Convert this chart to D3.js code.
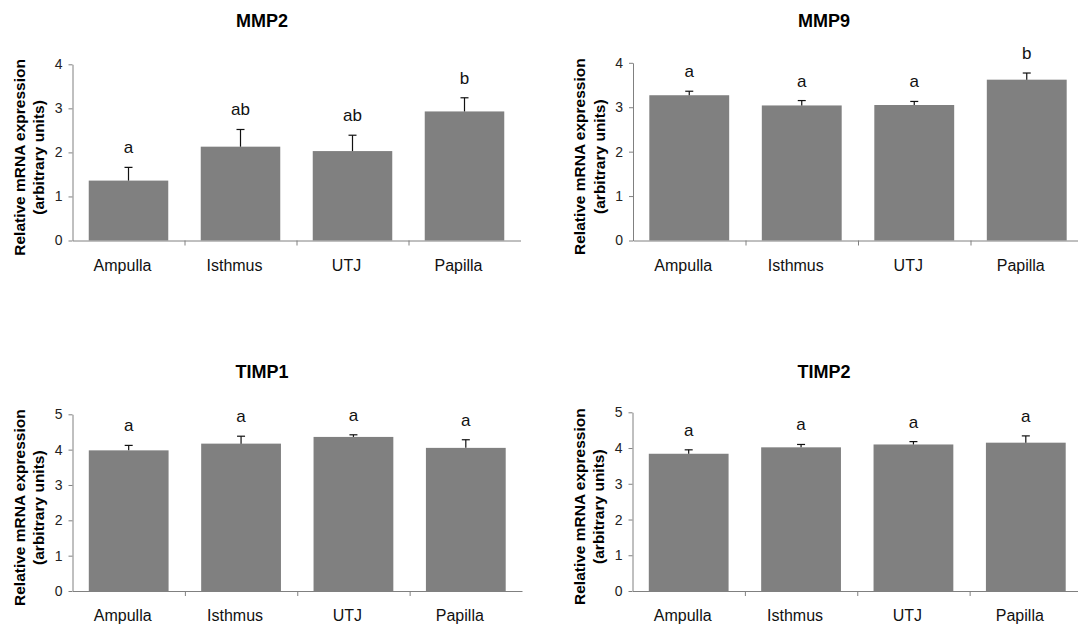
<!DOCTYPE html>
<html>
<head>
<meta charset="utf-8">
<script src="https://cdn.jsdelivr.net/npm/d3@7"></script>
<style>
  body { margin: 0; background: #fff; }
  svg { display: block; font-family: Arial, "Liberation Sans", sans-serif; }
  .domain { stroke: #808080; }
  .tick line { stroke: #808080; }
</style>
</head>
<body>
<svg width="1078" height="624"></svg>
<script>
const categories = ["Ampulla", "Isthmus", "UTJ", "Papilla"]
const genes = ["MMP2", "MMP9", "TIMP1", "TIMP2"]

// bar heights (means) and upper error (SEM)
const mmp2_mean = [1.36, 2.13, 2.03, 2.93]
const mmp2_sem = [0.30, 0.39, 0.36, 0.31]
const mmp2_letters = ["a", "ab", "ab", "b"]

const mmp9_mean = [3.27, 3.04, 3.05, 3.62]
const mmp9_sem = [0.09, 0.11, 0.08, 0.15]
const mmp9_letters = ["a", "a", "a", "b"]

const timp1_mean = [3.98, 4.17, 4.36, 4.05]
const timp1_sem = [0.14, 0.21, 0.06, 0.23]
const timp1_letters = ["a", "a", "a", "a"]

const timp2_mean = [3.84, 4.02, 4.10, 4.15]
const timp2_sem = [0.11, 0.08, 0.08, 0.19]
const timp2_letters = ["a", "a", "a", "a"]

const y_max = [4, 4, 5, 5]

const bar_color = "#808080"

// panel layout: plot area in page pixels
const panels = [
    { x0: 72.5, x1: 520.5, y0: 240.5, y1: 64.3, title_x: 262, title_y: 27, mean: mmp2_mean, sem: mmp2_sem, letters: mmp2_letters },
    { x0: 633, x1: 1083, y0: 240.5, y1: 62.8, title_x: 824, title_y: 27, mean: mmp9_mean, sem: mmp9_sem, letters: mmp9_letters },
    { x0: 72.5, x1: 522, y0: 591, y1: 414.3, title_x: 262, title_y: 378, mean: timp1_mean, sem: timp1_sem, letters: timp1_letters },
    { x0: 632.5, x1: 1082, y0: 591, y1: 412.3, title_x: 824, title_y: 378, mean: timp2_mean, sem: timp2_sem, letters: timp2_letters }
]

const svg = d3.select("svg")

panels.forEach((p, i) => {

    const g = svg.append("g")

    const x = d3.scaleBand()
        .domain(categories)
        .range([p.x0, p.x1])
        .paddingInner(0.29)
        .paddingOuter(0.145)

    const x_slots = d3.scaleLinear()
        .domain([0, categories.length])
        .range([p.x0, p.x1])

    const y = d3.scaleLinear()
        .domain([0, y_max[i]])
        .range([p.y0, p.y1])

    const rows = categories.map((c, k) => ({ cat: c, mean: p.mean[k], sem: p.sem[k], letter: p.letters[k] }))

    // bars
    g.selectAll("rect")
        .data(rows)
        .enter()
        .append("rect")
        .attr("x", d => x(d.cat))
        .attr("y", d => y(d.mean))
        .attr("width", x.bandwidth())
        .attr("height", d => y(0) - y(d.mean))
        .attr("fill", bar_color)

    // upper error bars
    const err = g.selectAll(".err")
        .data(rows)
        .enter()
        .append("g")
        .attr("class", "err")
        .attr("stroke", "#111")
        .attr("stroke-width", 1.2)

    err.append("line")
        .attr("x1", d => x(d.cat) + x.bandwidth() / 2)
        .attr("x2", d => x(d.cat) + x.bandwidth() / 2)
        .attr("y1", d => y(d.mean))
        .attr("y2", d => y(d.mean + d.sem))

    err.append("line")
        .attr("x1", d => x(d.cat) + x.bandwidth() / 2 - 4)
        .attr("x2", d => x(d.cat) + x.bandwidth() / 2 + 4)
        .attr("y1", d => y(d.mean + d.sem))
        .attr("y2", d => y(d.mean + d.sem))

    // significance letters
    g.selectAll(".letter")
        .data(rows)
        .enter()
        .append("text")
        .attr("class", "letter")
        .attr("x", d => x(d.cat) + x.bandwidth() / 2)
        .attr("y", d => y(d.mean + d.sem) - 14)
        .attr("text-anchor", "middle")
        .attr("font-size", "17px")
        .attr("fill", "#111")
        .text(d => d.letter)

    // y axis
    const y_axis = g.append("g")
        .attr("transform", `translate(${p.x0},0)`)
        .call(d3.axisLeft(y).ticks(y_max[i]).tickSize(4).tickSizeOuter(0).tickPadding(6))
    y_axis.selectAll("text").attr("font-size", "14px").attr("fill", "#222")

    // x axis: line with ticks between categories
    g.append("g")
        .attr("transform", `translate(0,${p.y0})`)
        .call(d3.axisBottom(x_slots).tickValues(d3.range(1, categories.length)).tickSize(5).tickSizeOuter(0).tickFormat(""))

    g.selectAll(".xlabel")
        .data(categories)
        .enter()
        .append("text")
        .attr("class", "xlabel")
        .attr("x", d => x(d) + x.bandwidth() / 2 - 6)
        .attr("y", p.y0 + 30)
        .attr("text-anchor", "middle")
        .attr("font-size", "16px")
        .attr("fill", "#111")
        .text(d => d)

    // titles
    g.append("text")
        .attr("x", p.title_x)
        .attr("y", p.title_y)
        .attr("text-anchor", "middle")
        .attr("font-size", "18px")
        .attr("font-weight", "bold")
        .text(genes[i])

    const y_mid = (p.y0 + p.y1) / 2 + 5
    const lines = ["Relative mRNA expression", "(arbitrary units)"]
    g.selectAll(".ytitle")
        .data(lines)
        .enter()
        .append("text")
        .attr("class", "ytitle")
        .attr("transform", (d, k) => `translate(${p.x0 - 53 + k * 19.5},${y_mid}) rotate(-90)`)
        .attr("dy", "0.35em")
        .attr("text-anchor", "middle")
        .attr("font-size", "15.5px")
        .attr("font-weight", "bold")
        .text(d => d)
})
</script>
</body>
</html>
